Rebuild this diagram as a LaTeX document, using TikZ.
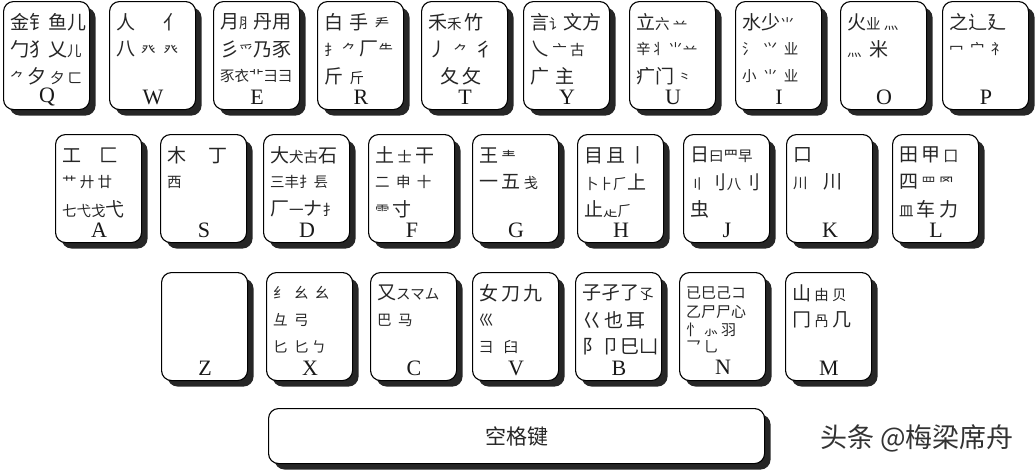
\documentclass[tikz,border=0pt]{standalone}
\usepackage{fontspec}
\setmainfont{Liberation Serif}
\newfontfamily\cjk{Noto Sans CJK SC}
\usetikzlibrary{shadows}
\newcommand\smc[1]{{\fontsize{14.5}{14.5}\selectfont #1}}
\tikzset{
  keybox/.style={draw=black, line width=1.1pt, fill=white, rounded corners=10pt,
    minimum width=86pt, minimum height=108pt, anchor=north west, inner sep=0pt,
    drop shadow={shadow xshift=6pt, shadow yshift=-6pt, opacity=1, fill=black!85}},
  radrow/.style={anchor=west, inner sep=0pt, text=black!85, font=\cjk\fontsize{19}{19}\selectfont},
  nrow/.style={anchor=west, inner sep=0pt, text=black!85, font=\cjk\fontsize{15}{15}\selectfont},
  keylab/.style={inner sep=0pt, text=black!90, font=\fontsize{22}{22}\selectfont},
}
\newcommand\wkey[7]{%
  \node[keybox] (#1) at (#2,#3) {};
  \node[radrow] (#1-a) at (#2+7,#3+21) {#5};
  \node[radrow] (#1-b) at (#2+7,#3+48) {#6};
  \node[radrow] (#1-c) at (#2+7,#3+75) {#7};
  \node[keylab] (#1-l) at (#2+44,#3+96) {#4};
}
\begin{document}
\begin{tikzpicture}[x=1pt,y=-1pt]
\useasboundingbox (0,0) rectangle (1035,471);
% row 1
\wkey{kQ}{3}{1}{Q}{金钅鱼儿}{勹犭乂\smc{儿}}{\smc{⺈}\,夕\,\smc{夕}\,\smc{ㄈ}}
\wkey{kW}{109}{1}{W}{人\hspace{28pt}亻}{八\hspace{6pt}\smc{癶}\hspace{8pt}\smc{癶}}{}
\wkey{kE}{213}{1}{E}{月\smc{⺼}丹用}{彡\smc{爫}乃豕}{\smc{豕衣⻀⺕彐}}
\wkey{kR}{317}{1}{R}{白\,\,手\,\,\smc{龵}}{\smc{扌}\,\smc{⺈}\,厂\smc{⺧}}{斤\,\,\smc{斤}}
\wkey{kT}{421}{1}{T}{禾\smc{禾}\,竹}{丿\,\,\smc{⺈}\,\,彳}{\hspace{12pt}夂\,攵}
\wkey{kY}{523}{1}{Y}{言\smc{讠}文方}{乀\,\smc{亠}\,\smc{古}}{广\,\,主}
\wkey{kU}{629}{1}{U}{立\smc{六}\,\smc{䒑}}{\smc{辛}\smc{丬}\,\smc{⺌}\smc{䒑}}{疒门\,\smc{⺀}}
\wkey{kI}{735}{1}{I}{水少\smc{⺌}}{\smc{氵}\,\,\smc{⺍}\,\,\smc{业}}{\smc{小}\,\,\smc{⺌}\,\,\smc{业}}
\wkey{kO}{840}{1}{O}{火\smc{业}\,\smc{灬}}{\smc{灬}\hspace{8pt}米}{}
\wkey{kP}{942}{1}{P}{之辶廴}{\smc{冖}\,\,\smc{宀}\,\,\smc{礻}}{}
% row 2
\wkey{kA}{55}{134}{A}{工\hspace{18pt}匚}{\smc{艹}\,\smc{廾}\,\smc{廿}}{\smc{七弋戈}弋}
\wkey{kS}{160}{134}{S}{木\hspace{22pt}丁}{\smc{西}}{}
\wkey{kD}{263}{134}{D}{大\smc{犬古}石}{\smc{三}\smc{丰}\smc{⺘}\smc{镸}}{厂\smc{一}ナ\smc{⺘}}
\wkey{kF}{368}{134}{F}{土\,\smc{士}\,干}{\smc{二}\,\,\smc{申}\,\,\smc{十}}{\smc{⻗}\,寸}
\wkey{kG}{472}{134}{G}{王\,\smc{龶}}{一\,五\,\smc{戋}}{}
\wkey{kH}{577}{134}{H}{目\,且\,丨}{\smc{卜⺊}\smc{⺁}上}{止\smc{龰}\smc{⺁}}
\wkey{kJ}{683}{134}{J}{日\smc{曰}\smc{⺫}\smc{早}}{\smc{〢}\,刂\smc{八}刂}{虫}
\wkey{kK}{786}{134}{K}{口}{\smc{川}\hspace{16pt}川}{}
\wkey{kL}{892}{134}{L}{田\,甲\,\smc{囗}}{四\,\smc{罒}\,\smc{罓}}{\smc{皿}\,车\,力}
% row 3
\wkey{kZ}{161}{272}{Z}{}{}{}
\wkey{kX}{266}{272}{X}{\smc{纟}\,\,\smc{幺}\,\,\smc{幺}}{\smc{彑}\,\,\smc{弓}}{\smc{匕}\,\,\smc{匕}\,\smc{ㄅ}}
\wkey{kC}{370}{272}{C}{又\smc{スマム}}{\smc{巴}\,\,\smc{马}}{}
\wkey{kV}{472}{272}{V}{女\,刀\,九}{\smc{巛}}{\smc{彐}\hspace{10pt}\smc{臼}}
\wkey{kB}{575}{272}{B}{子孑了\smc{孓}}{巜\,也\,耳}{阝卩巳凵}
\node[keybox] (kN) at (679,272) {};
\node[nrow] (kN-a) at (686,293) {已巳己コ};
\node[nrow] (kN-b) at (686,312) {乙尸尸心};
\node[nrow] (kN-c) at (686,330) {忄\,⺗\,羽};
\node[nrow] (kN-d) at (686,347) {乛\,⺃};
\node[keylab] (kN-l) at (723,367) {N};
\wkey{kM}{785}{272}{M}{山\,\smc{由}\,\smc{贝}}{冂\,\smc{冎}\,几}{}
% space bar
\node[keybox, minimum width=496pt, minimum height=55pt] (space) at (268,408) {};
\node[inner sep=0pt, text=black!85, font=\cjk\fontsize{21}{21}\selectfont] (spacelab) at (space.center) {空格键};
% watermark
\node[anchor=west, inner sep=0pt, text=black!80, font=\cjk\fontsize{27}{27}\selectfont] (wm) at (820,438) {头条 @梅梁席舟};
\end{tikzpicture}
\end{document}
